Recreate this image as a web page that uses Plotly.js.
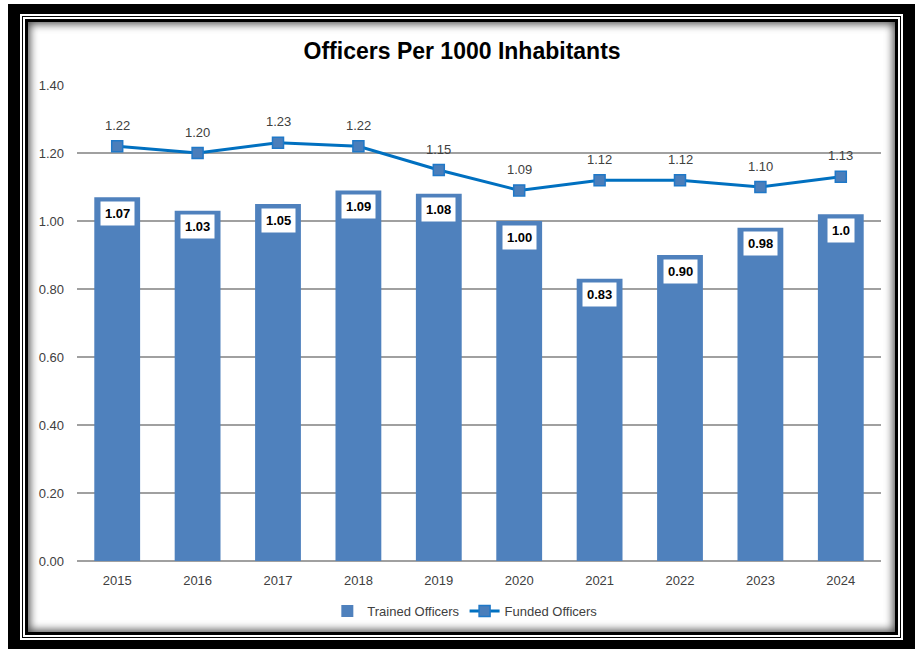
<!DOCTYPE html>
<html>
<head>
<meta charset="utf-8">
<script src="https://cdn.plot.ly/plotly-3.0.1.min.js"></script>
<style>
  html, body { margin:0; padding:0; background:#fff; width:915px; height:649px; overflow:hidden; }
  .f { position:absolute; }
  #a { left:8px; top:4px; width:907px; height:645px; background:#000; }
  #b { left:20px; top:14px; width:883px; height:626px; background:#fff; }
  #c { left:22px; top:16px; width:879px; height:622px; background:#000; }
  #d { left:23px; top:17px; width:877px; height:620px; background:#fff; }
  #e { left:25px; top:19px; width:873px; height:616px; background:#fff;
       box-shadow: inset 0 0 0 3px #000, inset 0 0 9px 5px rgba(0,0,0,0.7); }
  #chart { position:absolute; left:0; top:0; width:915px; height:649px; }
</style>
</head>
<body>
<div class="f" id="a"></div>
<div class="f" id="b"></div>
<div class="f" id="c"></div>
<div class="f" id="d"></div>
<div class="f" id="e"></div>
<div id="chart"></div>
<script>
const years = ['2015','2016','2017','2018','2019','2020','2021','2022','2023','2024'];
const trained = [1.07, 1.03, 1.05, 1.09, 1.08, 1.00, 0.83, 0.90, 0.98, 1.02];
const trainedLabels = ['1.07','1.03','1.05','1.09','1.08','1.00','0.83','0.90','0.98','1.0'];
const funded = [1.22, 1.20, 1.23, 1.22, 1.15, 1.09, 1.12, 1.12, 1.10, 1.13];
const fundedLabels = ['1.22','1.20','1.23','1.22','1.15','1.09','1.12','1.12','1.10','1.13'];
const yTicks = [0, 0.2, 0.4, 0.6, 0.8, 1.0, 1.2, 1.4];

const FONT = 'Liberation Sans, Arial, sans-serif';

const traces = [
  {
    type:'bar', name:'Trained Officers', x:years, y:trained,
    marker:{color:'#4F81BD'}, hoverinfo:'skip'
  },
  {
    type:'scatter', mode:'lines+markers', name:'Funded Officers', x:years, y:funded,
    line:{color:'#0070C0', width:3},
    marker:{symbol:'square', size:11, color:'#4A7EBB', line:{color:'#1F78C8', width:1.5}},
    hoverinfo:'skip'
  }
];

const annotations = [];
years.forEach((yr, i) => {
  annotations.push({
    x: i, y: trained[i], xref:'x', yref:'y', text: '<b>' + trainedLabels[i] + '</b>',
    showarrow:false, yshift:-16, bgcolor:'#ffffff', borderpad:4,
    font:{family:FONT, size:13, color:'#000'}
  });
  annotations.push({
    x: i, y: funded[i], xref:'x', yref:'y', text: fundedLabels[i],
    showarrow:false, yshift:21,
    font:{family:FONT, size:13, color:'#404040'}
  });
});

const layout = {
  width:915, height:649,
  margin:{l:77, r:34, t:85, b:88},
  paper_bgcolor:'rgba(0,0,0,0)', plot_bgcolor:'rgba(0,0,0,0)',
  title:{text:'<b>Officers Per 1000 Inhabitants</b>', x:0.505, xanchor:'center', y:0.922, yanchor:'middle',
         font:{family:FONT, size:23, color:'#000'}},
  bargap:0.43,
  showlegend:true,
  legend:{orientation:'h', x:0.483, xanchor:'center', y:-0.105, yanchor:'middle',
          font:{family:FONT, size:13, color:'#404040'}, itemclick:false, traceorder:'normal'},
  xaxis:{type:'category', range:[-0.5, 9.5], autorange:false, showgrid:false, ticks:'', showline:false, zeroline:false,
         tickfont:{family:FONT, size:13, color:'#404040'}, ticklabelstandoff:10, fixedrange:true},
  yaxis:{range:[0,1.4], autorange:false, tickvals:yTicks, tickformat:'.2f', showgrid:true, gridcolor:'#A0A0A0', gridwidth:1.5,
         zeroline:true, zerolinecolor:'#A0A0A0', zerolinewidth:1.5, ticks:'', showline:false,
         tickfont:{family:FONT, size:13, color:'#404040'}, ticklabelstandoff:12, fixedrange:true},
  annotations: annotations
};

Plotly.newPlot('chart', traces, layout, {displayModeBar:false, staticPlot:true});
</script>
</body>
</html>
